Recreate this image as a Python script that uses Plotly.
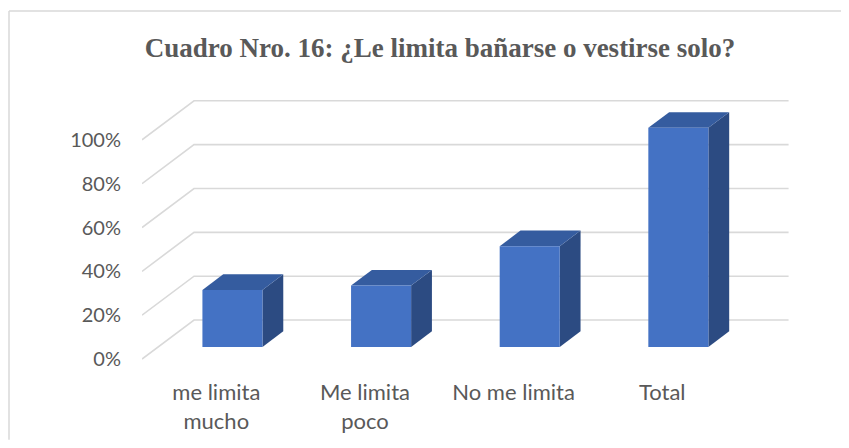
import plotly.graph_objects as go

categories = ["me limita<br>mucho", "Me limita<br>poco", "No me limita", "Total"]
values = [26, 28, 46, 100]
y_ticks = [0, 20, 40, 60, 80, 100]
y_tick_labels = ["0%", "20%", "40%", "60%", "80%", "100%"]
title_text = "Cuadro Nro. 16: ¿Le limita bañarse o vestirse solo?"

# oblique 3D projection parameters (in data units)
DX = 0.35      # full depth, x shift (category units)
DY = 17.8      # full depth, y shift (percent units)
F1, F2 = 0.31, 0.71   # bar front/back depth fractions
HALF_W = 0.202

FRONT = "#4472C4"
TOP = "#355C9F"
SIDE = "#2C4B82"
GRID = "#D9D9D9"
TEXT = "#595959"

fig = go.Figure()

# gridlines: side wall diagonals + back wall horizontals
gx, gy = [], []
x_left = -0.5
x_right = len(categories) - 0.5
for t in y_ticks:
    gx += [x_left, x_left + DX, x_right + DX, None]
    gy += [t, t + DY, t + DY, None]
fig.add_trace(go.Scatter(x=gx, y=gy, mode="lines",
                         line=dict(color=GRID, width=1.6),
                         hoverinfo="skip", showlegend=False))

for i, v in enumerate(values):
    xl, xr = i - HALF_W, i + HALF_W
    # side face
    fig.add_trace(go.Scatter(
        x=[xr + F1 * DX, xr + F2 * DX, xr + F2 * DX, xr + F1 * DX, xr + F1 * DX],
        y=[F1 * DY, F2 * DY, v + F2 * DY, v + F1 * DY, F1 * DY],
        fill="toself", fillcolor=SIDE, mode="lines", line=dict(width=0, color=SIDE),
        hoverinfo="skip", showlegend=False))
    # top face
    fig.add_trace(go.Scatter(
        x=[xl + F1 * DX, xr + F1 * DX, xr + F2 * DX, xl + F2 * DX, xl + F1 * DX],
        y=[v + F1 * DY, v + F1 * DY, v + F2 * DY, v + F2 * DY, v + F1 * DY],
        fill="toself", fillcolor=TOP, mode="lines", line=dict(width=0, color=TOP),
        hoverinfo="skip", showlegend=False))
    # front face
    fig.add_trace(go.Scatter(
        x=[xl + F1 * DX, xr + F1 * DX, xr + F1 * DX, xl + F1 * DX, xl + F1 * DX],
        y=[F1 * DY, F1 * DY, v + F1 * DY, v + F1 * DY, F1 * DY],
        fill="toself", fillcolor=FRONT, mode="lines", line=dict(width=0, color=FRONT),
        hoverinfo="skip", showlegend=False))

# page has an 8px body margin on every side; figure is sized/offset to fit without scrolling
OFF = 8
W, H = 849 - 2 * OFF, 448 - 2 * OFF
L, T = 142 - OFF, 96 - OFF
plot_right, plot_bottom = 796 - OFF, 381.2 - OFF
R, B = W - plot_right, H - plot_bottom
pw, ph = W - L - R, H - T - B

bx0 = (9 - OFF - L) / pw
by1 = 1 + (T - (11 - OFF)) / ph
fig.update_layout(
    width=W, height=H,
    margin=dict(l=L, r=R, t=T, b=B, autoexpand=False),
    paper_bgcolor="white", plot_bgcolor="white",
    title=dict(text="<b>" + title_text + "</b>", x=(440 - OFF) / W, xref="container",
               xanchor="center", y=1 - (48 - OFF) / H, yanchor="middle",
               font=dict(family="Liberation Serif", size=27, color=TEXT)),
    xaxis=dict(range=[-0.5, 3.9], tickvals=list(range(len(categories))), ticktext=categories,
               showgrid=False, zeroline=False, showline=False, ticks="",
               ticklabelstandoff=-4,
               tickfont=dict(family="Lato", size=22, color=TEXT), fixedrange=True),
    yaxis=dict(range=[-10, 120], tickvals=y_ticks, ticktext=y_tick_labels,
               showgrid=False, zeroline=False, showline=False, ticks="",
               ticklabelstandoff=20,
               tickfont=dict(family="Lato", size=20, color=TEXT), fixedrange=True),
    shapes=[
        dict(type="line", xref="paper", yref="paper", x0=bx0, x1=(W - L) / pw, y0=by1, y1=by1,
             line=dict(color=GRID, width=1.5), layer="below"),
        dict(type="line", xref="paper", yref="paper", x0=bx0, x1=bx0, y0=by1, y1=-B / ph,
             line=dict(color=GRID, width=1.5), layer="below"),
    ],
)

fig.write_html("out.html", config={"displayModeBar": False})
